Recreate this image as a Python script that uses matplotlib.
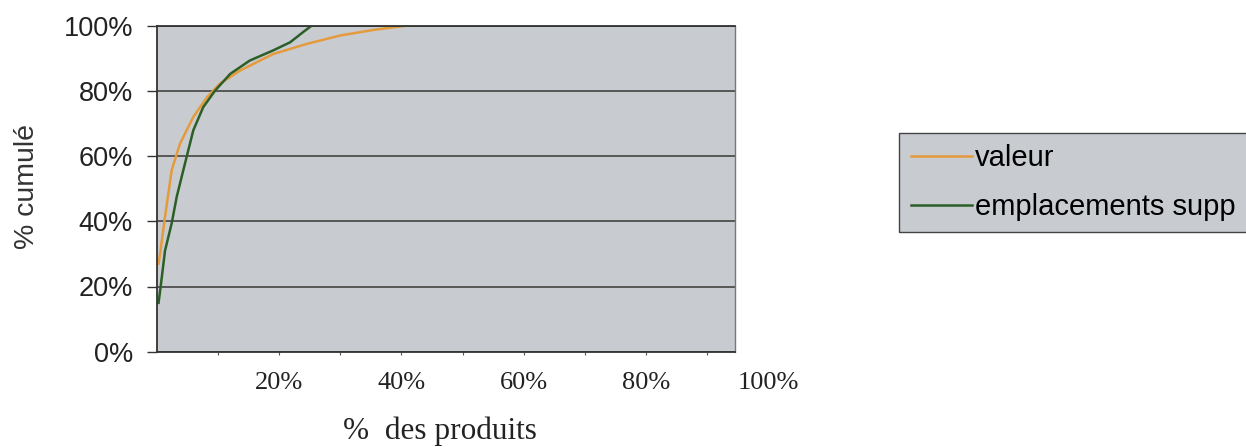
import matplotlib
matplotlib.use("Agg")
import matplotlib.pyplot as plt
import matplotlib.transforms as mtransforms

# cumulative curves (% of products -> cumulated %)
valeur_x = [0.3, 0.55, 1.36, 2.45, 3.8, 5.98, 8.2, 10.3, 13.6, 19.0, 24.5, 30.0, 35.4, 40.8, 94.5]
valeur_y = [27, 30, 41.4, 55.7, 63.8, 72, 78, 82.2, 86.2, 91.3, 94.4, 97, 98.7, 100, 100]

empl_x = [0.3, 0.65, 1.36, 2.45, 3.27, 4.35, 5.98, 7.6, 9.5, 12.0, 15.2, 19.0, 21.8, 23.9, 25.3, 94.5]
empl_y = [15, 20, 31, 39.4, 47.5, 55.7, 67.9, 75, 80, 85.2, 89.3, 92.4, 94.9, 98, 100, 100]

y_ticks = [0, 20, 40, 60, 80, 100]
x_labels = [20, 40, 60, 80, 100]
x_minor = [10, 20, 30, 40, 50, 60, 70, 80, 90]

# the second name is cut by the right edge of the picture
series_names = ["valeur", "emplacements supp"]

W, H = 1246, 447
bg = "#c8ccd1"
grid_col = "#444444"

fig = plt.figure(figsize=(W / 100, H / 100), dpi=100)
ax = fig.add_axes([156.7 / W, 1 - 351.7 / H, (735 - 156.7) / W, (351.7 - 25.7) / H])
ax.set_facecolor(bg)

ax.plot(valeur_x, valeur_y, color="#e59a3c", lw=1.8, label=series_names[0])
ax.plot(empl_x, empl_y, color="#2b5f27", lw=1.8, label=series_names[1])

ax.set_xlim(0, 94.5)
ax.set_ylim(0, 100)

# horizontal gridlines
ax.set_yticks(y_ticks)
ax.yaxis.grid(True, color=grid_col, lw=1.2)
ax.set_axisbelow(True)
ax.set_yticklabels([f"{v}%" for v in y_ticks], fontsize=19.5,
                   family="Liberation Sans", color="#222222")
ax.tick_params(axis="y", direction="out", length=7, width=1, color="#333333", pad=10)

# x axis: small ticks, labels placed under the axis
ax.set_xticks(x_minor)
ax.set_xticklabels([])
ax.tick_params(axis="x", direction="out", length=2.5, width=0.8, color="#555555")
trans = mtransforms.blended_transform_factory(ax.transData, ax.transAxes)
for v in x_labels:
    ax.text(v, -31.3 / 326, f"{v}%", transform=trans, ha="center", va="center",
            fontsize=19, family="Liberation Serif", color="#222222", clip_on=False)

for side in ["left", "bottom", "top"]:
    ax.spines[side].set_color("#333333")
    ax.spines[side].set_linewidth(1.3)
ax.spines["right"].set_color("#777777")
ax.spines["right"].set_linewidth(1.0)

fig.text(440 / W, 1 - 431 / H, "%  des produits", ha="center", va="center",
         fontsize=22.5, family="Liberation Serif", color="#222222")
fig.text(26.7 / W, 1 - 186 / H, "% cumulé", rotation=90, ha="center", va="center",
         fontsize=20.5, family="Liberation Sans", color="#333333")

leg = ax.legend(loc="upper left", bbox_to_anchor=(899.3 / W, 1 - 132.7 / H),
                bbox_transform=fig.transFigure, borderaxespad=0, fancybox=False,
                frameon=True, prop={"family": "Liberation Sans", "size": 21},
                handlelength=2.1, handletextpad=0.1, labelspacing=0.7, borderpad=0.4)
frame = leg.get_frame()
frame.set_facecolor(bg)
frame.set_edgecolor("#444444")
frame.set_linewidth(1.0)
frame.set_alpha(1)

fig.savefig("out.png", dpi=100)
